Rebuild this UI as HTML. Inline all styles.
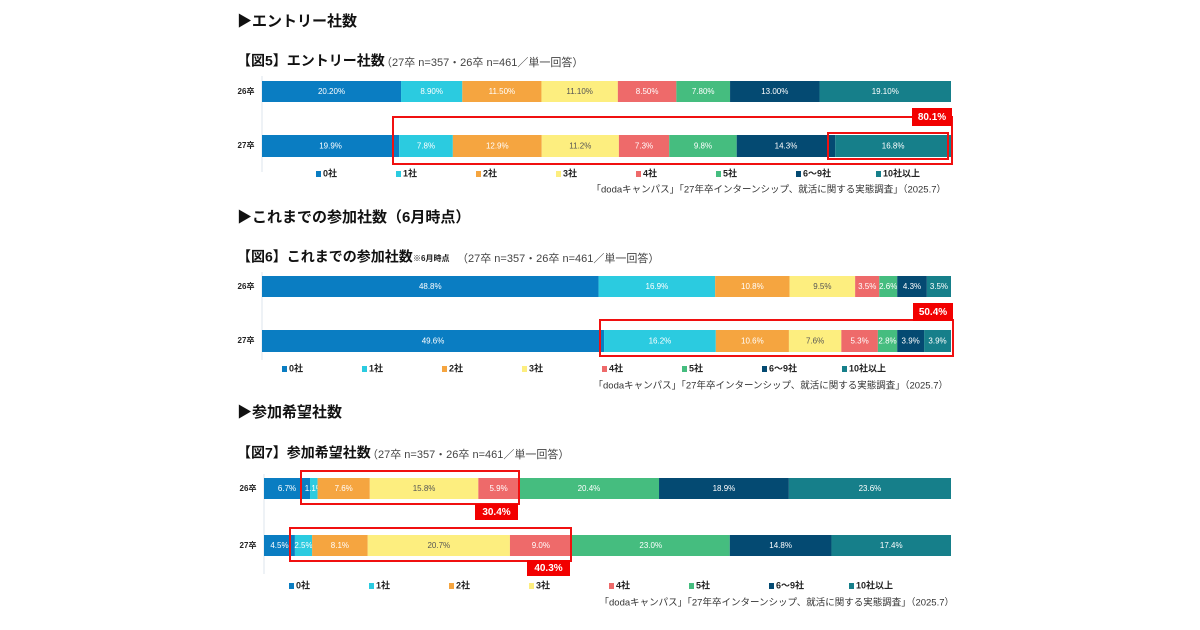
<!DOCTYPE html>
<html><head><meta charset="utf-8">
<style>
html,body{margin:0;padding:0;background:#fff;}
body{width:1200px;height:630px;overflow:hidden;font-family:"Liberation Sans","Noto Sans CJK JP",sans-serif;}
svg{display:block}
</style></head>
<body>
<svg id="c" width="1200" height="630" viewBox="0 0 1200 630" xmlns="http://www.w3.org/2000/svg" font-family="Liberation Sans, Noto Sans CJK JP, sans-serif"></svg>
<script>
const categories = ['0社','1社','2社','3社','4社','5社','6～9社','10社以上'];
const rows = ['26卒','27卒'];
const fig5_26 = [20.2,8.9,11.5,11.1,8.5,7.8,13.0,19.1];
const fig5_27 = [19.9,7.8,12.9,11.2,7.3,9.8,14.3,16.8];
const fig5_labels26 = ['20.20%','8.90%','11.50%','11.10%','8.50%','7.80%','13.00%','19.10%'];
const fig6_26 = [48.8,16.9,10.8,9.5,3.5,2.6,4.3,3.5];
const fig6_27 = [49.6,16.2,10.6,7.6,5.3,2.8,3.9,3.9];
const fig7_26 = [6.7,1.1,7.6,15.8,5.9,20.4,18.9,23.6];
const fig7_27 = [4.5,2.5,8.1,20.7,9.0,23.0,14.8,17.4];
const colors = ['#0a7dc2','#2bcbe0','#f5a540','#fdee7f','#ee6a6a','#45bd7f','#044a72','#167f8a'];

const svg = document.getElementById('c');
const NS = 'http://www.w3.org/2000/svg';
function mk(tag, attrs, text){
  const e = document.createElementNS(NS, tag);
  for (const k in attrs) e.setAttribute(k, attrs[k]);
  if (text !== undefined) e.textContent = text;
  svg.appendChild(e);
  return e;
}
function txt(x,y,s,size,weight,anchor,fill,name){
  const t = mk('text',{x:x,y:y,'font-size':size,'font-weight':weight||'normal','text-anchor':anchor||'start',fill:fill||'#222','dominant-baseline':'middle'},s);
  
  
  return t;
}
function drawBar(prefix, vals, labels, x0, x1, y, h){
  const sum = vals.reduce((a,b)=>a+b,0);
  const sx = v => v/sum*(x1-x0);
  let x = x0;
  vals.forEach((v,i)=>{
    const w = sx(v);
    const r = mk('rect',{x:x,y:y,width:w,height:h,fill:colors[i]});
    
    
    const lab = labels ? labels[i] : v.toFixed(1)+'%';
    txt(x+w/2, y+h/2+0.5, lab, 8, 'normal', 'middle', i===3?'#555':'#fff', prefix+'-value-'+i);
    x += w;
  });
}
function legend(prefix, x0, step, y){
  categories.forEach((c,i)=>{
    const r = mk('rect',{x:x0+i*step,y:y-3,width:5,height:6,fill:colors[i]});
    
    
    txt(x0+i*step+7, y, c, 9, 'bold', 'start', '#222', prefix+'-legend-label-'+i);
  });
}
function redBox(x,y,w,h,name){
  const r = mk('rect',{x:x,y:y,width:w,height:h,fill:'none',stroke:'#f01010','stroke-width':2});
  
  
}
function redTag(x,y,w,h,s,name){
  const r = mk('rect',{x:x,y:y,width:w,height:h,fill:'#f20000'});
  
  
  txt(x+w/2, y+h/2+0.5, s, 10, 'bold', 'middle', '#fff', name);
}
const src = '「dodaキャンパス」「27年卒インターンシップ、就活に関する実態調査」（2025.7）';

// Section 1
txt(237,22,'▶エントリー社数',15,'bold','start','#111','section-title-entry');
txt(237,62,'【図5】エントリー社数',14,'bold','start','#111','fig5-title');
txt(381,63,'（27卒 n=357・26卒 n=461／単一回答）',11,'normal','start','#444','fig5-subtitle');
mk('line',{x1:262,y1:76,x2:262,y2:172,stroke:'#dde6ee','stroke-width':1});
txt(246,92,rows[0],8,'bold','middle','#222','fig5-row-26');
txt(246,146,rows[1],8,'bold','middle','#222','fig5-row-27');
drawBar('fig5-26', fig5_26, fig5_labels26, 262, 951, 81, 21);
drawBar('fig5-27', fig5_27, null, 262, 951, 135, 22);
redBox(393,117,559,47,'fig5-highlight-box');
redBox(828,133,120,26,'fig5-inner-box');
redTag(912,108,40,18,'80.1%','fig5-highlight-label');
legend('fig5',316,80,174);
txt(946,190,src,9.5,'normal','end','#333','fig5-source');

// Section 2
txt(237,218,'▶これまでの参加社数（6月時点）',15,'bold','start','#111','section-title-participation');
txt(237,258,'【図6】これまでの参加社数',14,'bold','start','#111','fig6-title');
txt(413,259,'※6月時点',8,'bold','start','#222','fig6-note');
txt(457,259,'（27卒 n=357・26卒 n=461／単一回答）',11,'normal','start','#444','fig6-subtitle');
mk('line',{x1:262,y1:272,x2:262,y2:360,stroke:'#dde6ee','stroke-width':1});
txt(246,287,rows[0],8,'bold','middle','#222','fig6-row-26');
txt(246,341,rows[1],8,'bold','middle','#222','fig6-row-27');
drawBar('fig6-26', fig6_26, null, 262, 951, 276, 21);
drawBar('fig6-27', fig6_27, null, 262, 951, 330, 22);
redBox(600,320,353,36,'fig6-highlight-box');
redTag(913,303,40,18,'50.4%','fig6-highlight-label');
legend('fig6',282,80,369);
txt(948,386,src,9.5,'normal','end','#333','fig6-source');

// Section 3
txt(237,413,'▶参加希望社数',15,'bold','start','#111','section-title-desired');
txt(237,454,'【図7】参加希望社数',14,'bold','start','#111','fig7-title');
txt(367,455,'（27卒 n=357・26卒 n=461／単一回答）',11,'normal','start','#444','fig7-subtitle');
mk('line',{x1:264,y1:474,x2:264,y2:574,stroke:'#dde6ee','stroke-width':1});
txt(248,489,rows[0],8,'bold','middle','#222','fig7-row-26');
txt(248,546,rows[1],8,'bold','middle','#222','fig7-row-27');
drawBar('fig7-26', fig7_26, null, 264, 951, 478, 21);
drawBar('fig7-27', fig7_27, null, 264, 951, 535, 21);
redBox(301,471,218,33,'fig7-26-highlight-box');
redTag(475,504,43,16,'30.4%','fig7-26-highlight-label');
redBox(290,528,281,33,'fig7-27-highlight-box');
redTag(527,560,43,16,'40.3%','fig7-27-highlight-label');
legend('fig7',289,80,586);
txt(954,603,src,9.5,'normal','end','#333','fig7-source');
</script>
</body></html>
